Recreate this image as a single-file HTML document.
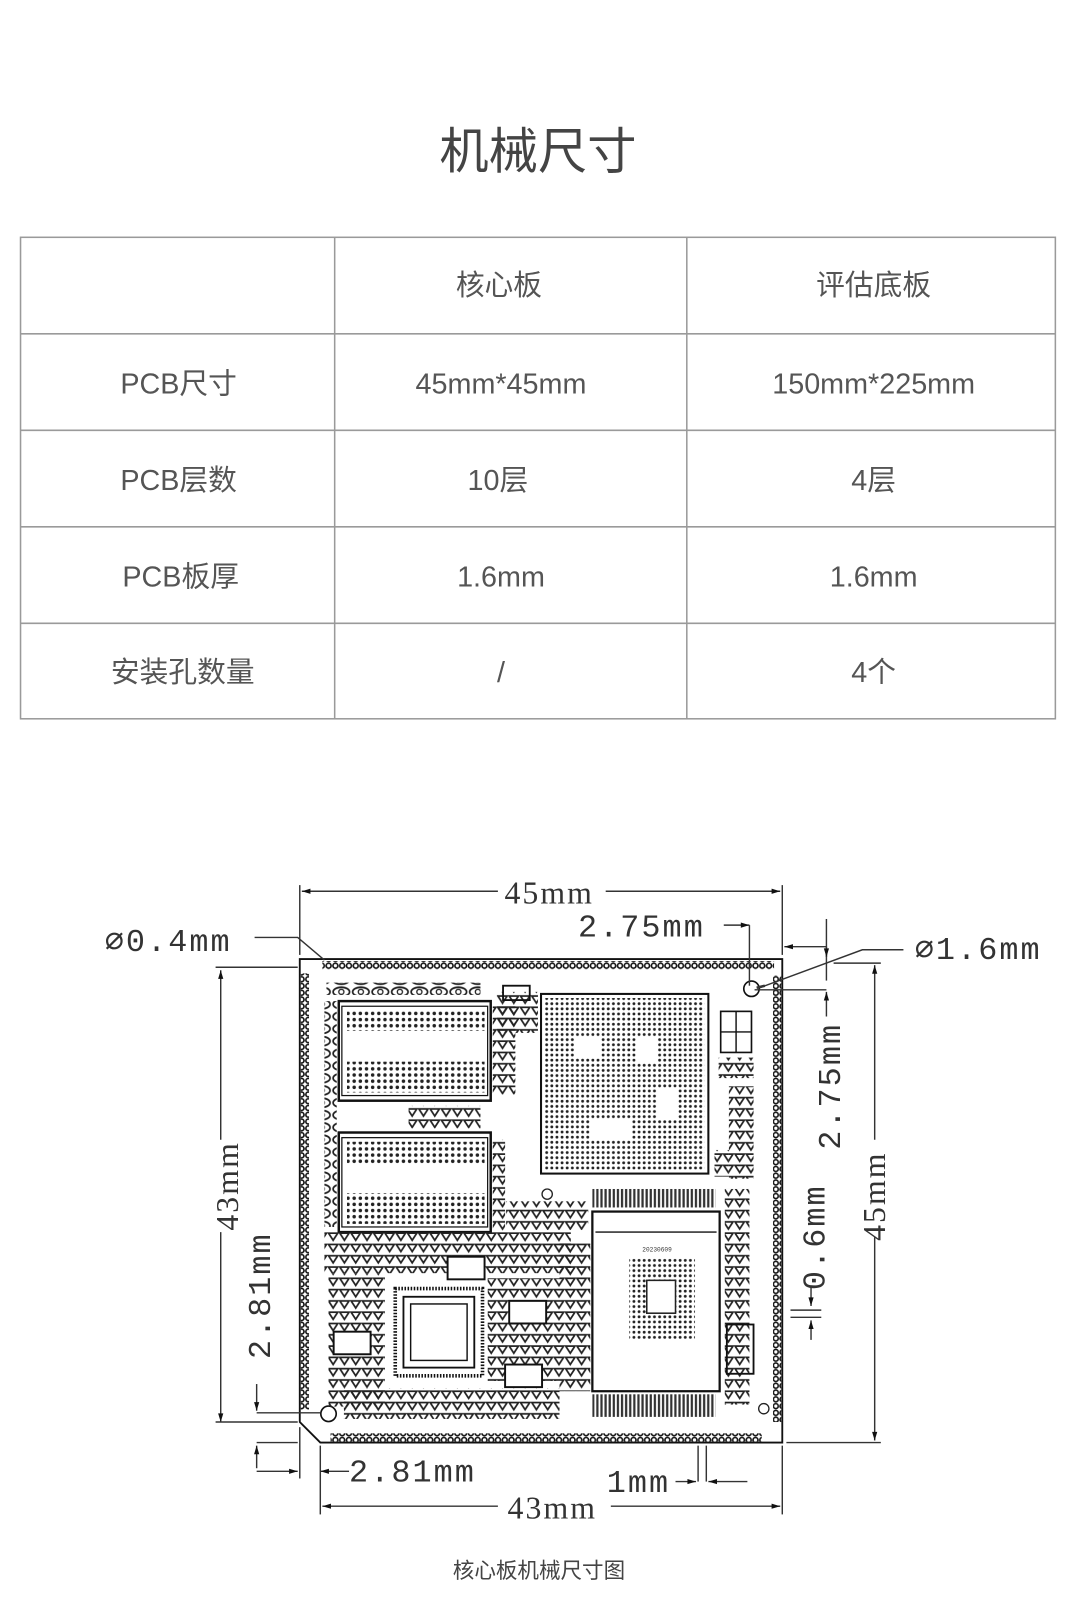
<!DOCTYPE html>
<html><head><meta charset="utf-8"><style>
html,body{margin:0;padding:0;background:#fff;}
svg{display:block;}
</style></head><body>
<svg width="1080" height="1608" viewBox="0 0 1052 1566" xmlns="http://www.w3.org/2000/svg">
<defs>
<pattern id="pad" width="6.6" height="6.6" patternUnits="userSpaceOnUse"><circle cx="3.3" cy="3.3" r="2.4" fill="none" stroke="#111" stroke-width="1.6"/></pattern>
<pattern id="dot" width="6" height="6" patternUnits="userSpaceOnUse"><circle cx="3" cy="3" r="1.7" fill="#222"/></pattern>
<pattern id="dot2" width="5" height="5" patternUnits="userSpaceOnUse"><circle cx="2.5" cy="2.5" r="1.4" fill="#222"/></pattern>
<pattern id="tri" width="11" height="11" patternUnits="userSpaceOnUse"><path d="M1,2 L10,2 L5.5,9 Z" fill="none" stroke="#222" stroke-width="1.7"/></pattern>
<pattern id="eye" width="19" height="12" patternUnits="userSpaceOnUse"><ellipse cx="9.5" cy="6" rx="8" ry="4.5" fill="none" stroke="#222" stroke-width="1.7"/><circle cx="9.5" cy="6" r="2.5" fill="none" stroke="#222" stroke-width="1.3"/></pattern>
<pattern id="comb" width="4" height="20" patternUnits="userSpaceOnUse"><rect x="0.8" y="0" width="2.2" height="20" fill="#333"/></pattern>
<marker id="ar" viewBox="0 0 10 10" refX="10" refY="5" markerWidth="9" markerHeight="6" orient="auto-start-reverse"><path d="M0,2 L10,5 L0,8 Z" fill="#111"/></marker>
</defs>

<text x="524" y="164" text-anchor="middle" font-family="Liberation Sans, Noto Sans CJK SC, sans-serif" font-size="48" fill="#444">机械尺寸</text>

<g stroke="#9a9a9a" stroke-width="1.5" fill="none">
<rect x="20" y="231" width="1008" height="469"/>
<line x1="20" y1="325" x2="1028" y2="325"/>
<line x1="20" y1="419" x2="1028" y2="419"/>
<line x1="20" y1="513" x2="1028" y2="513"/>
<line x1="20" y1="607" x2="1028" y2="607"/>
<line x1="326" y1="231" x2="326" y2="700"/>
<line x1="669" y1="231" x2="669" y2="700"/>
</g>
<g font-family="Liberation Sans, Noto Sans CJK SC, sans-serif" font-size="28" fill="#555" text-anchor="middle">
<text x="486" y="287">核心板</text><text x="851" y="287">评估底板</text>
<text x="174" y="383">PCB尺寸</text><text x="488" y="383">45mm*45mm</text><text x="851" y="383">150mm*225mm</text>
<text x="174" y="477">PCB层数</text><text x="485" y="477">10层</text><text x="851" y="477">4层</text>
<text x="176" y="571">PCB板厚</text><text x="488" y="571">1.6mm</text><text x="851" y="571">1.6mm</text>
<text x="178" y="664">安装孔数量</text><text x="488" y="664">/</text><text x="851" y="664">4个</text>
</g>

<g stroke="#111" stroke-width="1.8" fill="none">
<path d="M292,934 L762,934 L762,1405 L312,1405 L292,1385 Z"/>
</g>
<rect x="314" y="936" width="440" height="8" fill="url(#pad)"/>
<rect x="293" y="948" width="8" height="425" fill="url(#pad)"/>
<rect x="753" y="950" width="8" height="435" fill="url(#pad)"/>
<rect x="322" y="1396" width="420" height="8" fill="url(#pad)"/>
<circle cx="732" cy="963" r="7.5" fill="#fff" stroke="#111" stroke-width="1.6"/>
<circle cx="320" cy="1377" r="7.5" fill="#fff" stroke="#111" stroke-width="1.6"/>

<g stroke="#111" fill="none" stroke-width="2.4">
<rect x="330" y="975" width="148" height="97"/><rect x="333" y="980" width="142" height="87" stroke-width="1.2"/>
<rect x="330" y="1103" width="148" height="97"/><rect x="333" y="1108" width="142" height="87" stroke-width="1.2"/>
</g>
<rect x="338" y="984" width="134" height="20" fill="url(#dot)"/>
<rect x="338" y="1034" width="134" height="30" fill="url(#dot)"/>
<rect x="338" y="1112" width="134" height="22" fill="url(#dot)"/>
<rect x="338" y="1162" width="134" height="30" fill="url(#dot)"/>
<rect x="318" y="957" width="150" height="12" fill="url(#eye)"/>
<rect x="316" y="975" width="12" height="220" fill="url(#eye)"/>
<rect x="480" y="978" width="22" height="88" fill="url(#tri)"/>
<rect x="480" y="1110" width="12" height="90" fill="url(#tri)"/>
<rect x="398" y="1077" width="70" height="22" fill="url(#tri)"/>
<rect x="484" y="966" width="40" height="40" fill="url(#tri)"/>
<rect x="490" y="960" width="26" height="14" fill="none" stroke="#111" stroke-width="1.8"/>

<rect x="527" y="968" width="163" height="175" fill="none" stroke="#111" stroke-width="2"/>
<rect x="531" y="972" width="155" height="167" fill="url(#dot2)"/>
<rect x="560" y="1010" width="25" height="20" fill="#fff"/>
<rect x="620" y="1010" width="20" height="25" fill="#fff"/>
<rect x="575" y="1090" width="40" height="20" fill="#fff"/>
<rect x="640" y="1060" width="20" height="30" fill="#fff"/>
<rect x="702" y="985" width="30" height="40" fill="none" stroke="#111" stroke-width="1.6"/>
<line x1="717" y1="985" x2="717" y2="1025" stroke="#111" stroke-width="1.4"/><line x1="702" y1="1005" x2="732" y2="1005" stroke="#111" stroke-width="1.4"/>
<rect x="700" y="1030" width="34" height="20" fill="url(#tri)"/>
<rect x="710" y="1058" width="24" height="90" fill="url(#tri)"/>
<rect x="696" y="1120" width="14" height="26" fill="url(#tri)"/>

<rect x="316" y="1200" width="240" height="40" fill="url(#tri)"/>
<rect x="493" y="1170" width="80" height="28" fill="url(#tri)"/>
<rect x="320" y="1240" width="55" height="130" fill="url(#tri)"/>
<rect x="335" y="1352" width="210" height="30" fill="url(#tri)"/>
<rect x="475" y="1245" width="70" height="100" fill="url(#tri)"/>
<rect x="545" y="1210" width="30" height="145" fill="url(#tri)"/>
<rect x="380" y="1250" width="95" height="96" fill="#fff"/>
<rect x="385" y="1255" width="85" height="85" fill="none" stroke="#111" stroke-width="3.5" stroke-dasharray="1.5 1.5"/>
<rect x="393" y="1263" width="69" height="69" fill="none" stroke="#111" stroke-width="1.8"/>
<rect x="400" y="1270" width="55" height="55" fill="none" stroke="#111" stroke-width="1.4"/>
<g fill="#fff" stroke="#111" stroke-width="1.9">
<rect x="436" y="1224" width="36" height="22"/><rect x="496" y="1267" width="36" height="22"/>
<rect x="325" y="1297" width="36" height="22"/><rect x="492" y="1329" width="36" height="22"/>
</g>
<rect x="577" y="1158" width="120" height="18" fill="url(#comb)"/>
<rect x="577" y="1358" width="120" height="22" fill="url(#comb)"/>
<rect x="577" y="1180" width="124" height="175" fill="none" stroke="#111" stroke-width="2.2"/>
<line x1="580" y1="1200" x2="698" y2="1200" stroke="#111" stroke-width="1.3"/>
<rect x="613" y="1226" width="64" height="78" fill="url(#dot2)"/>
<rect x="630" y="1247" width="28" height="32" fill="#fff" stroke="#222" stroke-width="1.5"/>
<text x="640" y="1219" font-family="Liberation Mono, monospace" font-size="6" fill="#333" text-anchor="middle">20230609</text>
<rect x="706" y="1158" width="24" height="210" fill="url(#tri)"/>
<rect x="708" y="1290" width="26" height="48" fill="none" stroke="#111" stroke-width="1.8"/>
<circle cx="533" cy="1163" r="5" fill="none" stroke="#222" stroke-width="1.3"/>
<circle cx="744" cy="1372" r="5" fill="none" stroke="#222" stroke-width="1.3"/>

<g stroke="#333" stroke-width="1.4" fill="none">
<line x1="292" y1="930" x2="292" y2="862"/><line x1="762" y1="930" x2="762" y2="862"/>
<line x1="485" y1="868" x2="294" y2="868" marker-end="url(#ar)"/>
<line x1="590" y1="868" x2="760" y2="868" marker-end="url(#ar)"/>
<line x1="705" y1="901" x2="730" y2="901" marker-end="url(#ar)"/><line x1="730" y1="901" x2="730" y2="960"/>
<line x1="805" y1="922" x2="764" y2="922" marker-end="url(#ar)"/>
<line x1="805" y1="922" x2="805" y2="955"/>
<line x1="805" y1="895" x2="805" y2="932" marker-end="url(#ar)"/>
<line x1="735" y1="964" x2="805" y2="964"/><line x1="805" y1="990" x2="805" y2="966" marker-end="url(#ar)"/>
<path d="M880,925 L840,925 L740,962" /><path d="M745,960 L737,962" stroke-width="2.5"/>
<path d="M248,913 L290,913 L316,935"/>
<line x1="215" y1="1110" x2="215" y2="945" marker-end="url(#ar)"/>
<line x1="215" y1="1200" x2="215" y2="1385" marker-end="url(#ar)"/>
<line x1="210" y1="942" x2="290" y2="942"/><line x1="210" y1="1385" x2="290" y2="1385"/>
<line x1="250" y1="1348" x2="250" y2="1374" marker-end="url(#ar)"/>
<line x1="250" y1="1376" x2="312" y2="1376"/>
<line x1="250" y1="1430" x2="250" y2="1408" marker-end="url(#ar)"/>
<line x1="250" y1="1405" x2="290" y2="1405"/>
<line x1="250" y1="1433" x2="290" y2="1433" marker-end="url(#ar)"/><line x1="292" y1="1390" x2="292" y2="1440"/>
<line x1="312" y1="1408" x2="312" y2="1475"/>
<line x1="312" y1="1433" x2="340" y2="1433" marker-start="url(#ar)"/>
<line x1="762" y1="1408" x2="762" y2="1475"/>
<line x1="485" y1="1467" x2="314" y2="1467" marker-end="url(#ar)"/>
<line x1="595" y1="1467" x2="760" y2="1467" marker-end="url(#ar)"/>
<line x1="680" y1="1408" x2="680" y2="1443"/><line x1="658" y1="1443" x2="678" y2="1443" marker-end="url(#ar)"/>
<line x1="688" y1="1408" x2="688" y2="1443"/><line x1="728" y1="1443" x2="690" y2="1443" marker-end="url(#ar)"/>
<line x1="852" y1="1110" x2="852" y2="940" marker-end="url(#ar)"/>
<line x1="852" y1="1205" x2="852" y2="1403" marker-end="url(#ar)"/>
<line x1="766" y1="1405" x2="858" y2="1405"/><line x1="812" y1="938" x2="858" y2="938"/>
<line x1="790" y1="1252" x2="790" y2="1272" marker-end="url(#ar)"/>
<line x1="770" y1="1276" x2="800" y2="1276"/><line x1="770" y1="1283" x2="800" y2="1283"/>
<line x1="790" y1="1305" x2="790" y2="1286" marker-end="url(#ar)"/>
</g>
<g font-family="Liberation Serif, serif" font-size="31" fill="#333">
<text x="535" y="880" text-anchor="middle" letter-spacing="2">45mm</text>
<text x="538" y="1479" text-anchor="middle" letter-spacing="2">43mm</text>
<text transform="translate(232,1155) rotate(-90)" text-anchor="middle" letter-spacing="2">43mm</text>
<text transform="translate(862,1165) rotate(-90)" text-anchor="middle" letter-spacing="2">45mm</text>
</g>
<g font-family="Liberation Mono, monospace" font-size="31" fill="#333" letter-spacing="2">
<text x="102" y="926">∅0.4mm</text>
<text x="563" y="912">2.75mm</text>
<text x="891" y="934">∅1.6mm</text>
<text x="340" y="1443">2.81mm</text>
<text x="591" y="1453">1mm</text>
<text transform="translate(263,1262) rotate(-90)" text-anchor="middle">2.81mm</text>
<text transform="translate(818,1058) rotate(-90)" text-anchor="middle">2.75mm</text>
<text transform="translate(803,1205) rotate(-90)" text-anchor="middle">0.6mm</text>
</g>

<text x="525" y="1537" text-anchor="middle" font-family="Liberation Sans, Noto Sans CJK SC, sans-serif" font-size="21" fill="#444">核心板机械尺寸图</text>
</svg>
</body></html>
